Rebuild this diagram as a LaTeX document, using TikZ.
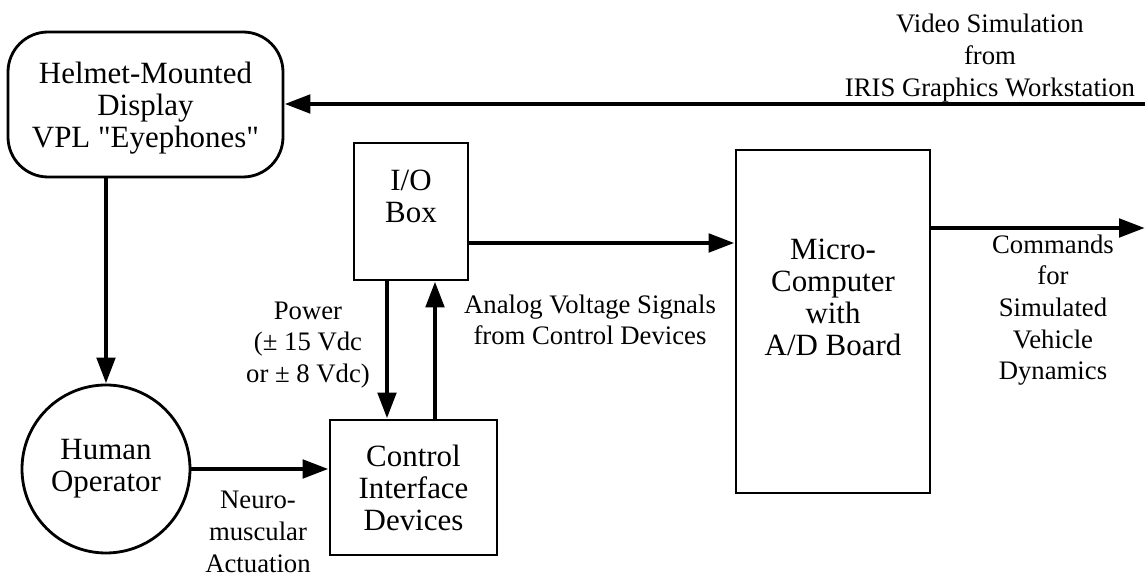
\documentclass[tikz,border=0pt]{standalone}
\usepackage{fontspec}
\setmainfont{Liberation Serif}[Ligatures=TeXOff]
\usetikzlibrary{arrows.meta,positioning}
\newcommand{\boxfont}{\fontsize{8.8}{9.1}\selectfont}
\newcommand{\lblfont}{\fontsize{7.6}{9}\selectfont}

\begin{document}
\begin{tikzpicture}[
  every node/.style={align=center},
  blk/.style={rectangle,draw,line width=0.8pt,font=\boxfont,inner sep=0pt},
  disp/.style={blk,rounded corners=4mm},
  oper/.style={circle,draw,line width=0.8pt,font=\boxfont,minimum size=1.68cm,inner sep=0pt},
  inbox/.style={font=\boxfont,inner sep=0pt},
  lbl/.style={font=\lblfont,inner sep=0pt},
  arr/.style={-{Triangle[length=2.6mm,width=1.8mm]},line width=1.4pt}
]
\useasboundingbox (0,0) rectangle (11.45,-5.75);

\node[disp,minimum width=2.75cm,minimum height=1.45cm] (hmd) at (1.455,-1.045) {};
\node[inbox] (hmdtxt) at ([yshift=-0.4mm]hmd.center) {Helmet-Mounted\\Display\\VPL "Eyephones"};
\node[oper] (human) at (1.06,-4.69) {Human\\Operator};
\node[blk,minimum width=1.14cm,minimum height=1.37cm] (io) at (4.11,-2.115) {};
\node[inbox] (iotxt) at ([yshift=1.55mm]io.center) {I/O\\Box};
\node[blk,minimum width=1.67cm,minimum height=1.35cm] (ctrl) at (4.135,-4.875) {Control\\Interface\\Devices};
\node[blk,minimum width=1.94cm,minimum height=3.43cm] (micro) at (8.33,-3.215) {};
\node[inbox] (microtxt) at ([yshift=2.4mm]micro.center) {Micro-\\Computer\\with\\A/D Board};

\coordinate (vin) at (11.45,-1.04);
\coordinate (cmd) at (11.45,-2.28);

% labels
\node[lbl] (video) at (9.9,-0.58) {Video Simulation\\from\\IRIS Graphics Workstation};
\node[lbl] (power) at (3.08,-3.45) {Power\\(± 15 Vdc\\or ± 8 Vdc)};
\node[lbl] (analog) at (5.9,-3.2) {Analog Voltage Signals\\from Control Devices};
\node[lbl] (cmds) at (10.53,-3.10) {Commands\\for\\Simulated\\Vehicle\\Dynamics};
\node[lbl] (neuro) at (2.58,-5.32) {Neuro-\\muscular\\Actuation};

% connectors
\draw[arr] (vin) -- (vin -| hmd.east);
\draw[arr] (human.north |- hmd.south) -- (human.north);
\draw[arr] (human.east) -- (human.east -| ctrl.west);
\draw[arr] ([xshift=-2.4mm]io.south) -- ([xshift=-2.4mm]io.south |- ctrl.north);
\draw[arr] ([xshift=2.4mm]io.south |- ctrl.north) -- ([xshift=2.4mm]io.south);
\draw[arr] ([yshift=-3.15mm]io.east) -- ([yshift=-3.15mm]io.east -| micro.west);
\draw[arr] (cmd -| micro.east) -- (cmd);
\end{tikzpicture}
\end{document}
